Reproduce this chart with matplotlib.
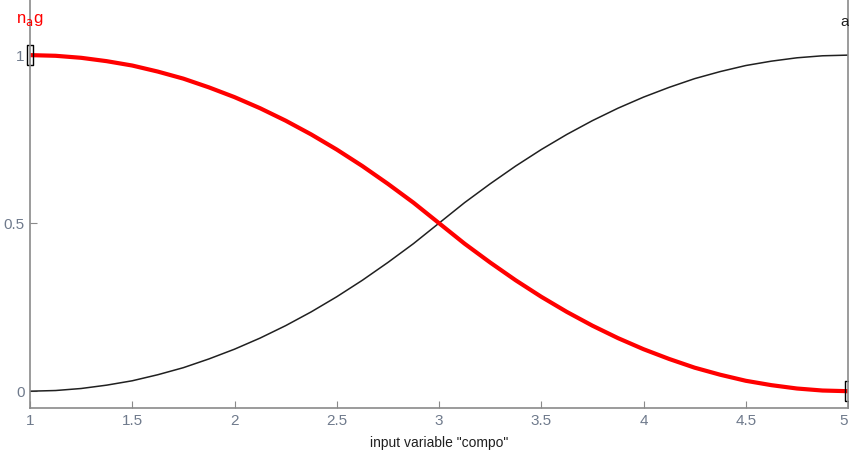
import matplotlib
matplotlib.use("Agg")
import matplotlib.pyplot as plt
from matplotlib.path import Path

plt.rcParams['font.family'] = ['Liberation Sans Narrow', 'Liberation Sans', 'DejaVu Sans']

# membership values
x = [1.0, 1.125, 1.25, 1.375, 1.5, 1.625, 1.75, 1.875, 2.0,
     2.125, 2.25, 2.375, 2.5, 2.625, 2.75, 2.875, 3.0,
     3.125, 3.25, 3.375, 3.5, 3.625, 3.75, 3.875, 4.0,
     4.125, 4.25, 4.375, 4.5, 4.625, 4.75, 4.875, 5.0]
mf_a = [0.0, 0.002, 0.008, 0.018, 0.031, 0.049, 0.070, 0.096, 0.125,
        0.158, 0.195, 0.236, 0.281, 0.330, 0.383, 0.439, 0.5,
        0.561, 0.617, 0.670, 0.719, 0.764, 0.805, 0.842, 0.875,
        0.904, 0.930, 0.951, 0.969, 0.982, 0.992, 0.998, 1.0]
mf_nag = [1.0, 0.998, 0.992, 0.982, 0.969, 0.951, 0.930, 0.904, 0.875,
          0.842, 0.805, 0.764, 0.719, 0.670, 0.617, 0.561, 0.5,
          0.439, 0.383, 0.330, 0.281, 0.236, 0.195, 0.158, 0.125,
          0.096, 0.070, 0.049, 0.031, 0.018, 0.008, 0.002, 0.0]
xticks = [1, 1.5, 2, 2.5, 3, 3.5, 4, 4.5, 5]
yticks = [0, 0.5, 1]
yticklabels = ['0', '0.5', '1']

tick_col = '#6f7a8c'
spine_col = '#8a8a8a'

fig = plt.figure(figsize=(8.49, 4.59), dpi=100)
ax = fig.add_axes([30/849, 51/459, 818/849, 408/459])

ax.plot(x, mf_a, color='#202020', lw=1.1)
ax.plot(x, mf_nag, color='#ff0000', lw=3.0, solid_capstyle='butt')

# selected-MF end markers (tall rectangles)
rect = Path([(-0.35, -1), (0.35, -1), (0.35, 1), (-0.35, 1), (-0.35, -1)])
ax.plot([x[0], x[-1]], [mf_nag[0], mf_nag[-1]], ls='none', marker=rect,
        ms=14, mfc='none', mec='black', mew=1.0, clip_on=False)

ax.text(1.0, 1.105, r'n$_{\rm a}$g', color='#ff0000', fontsize=12,
        ha='center', va='center')
ax.text(4.985, 1.10, 'a', color='#202020', fontsize=11, ha='center', va='center')

ax.set_xlim(1, 5)
ax.set_ylim(-0.05, 1.164)
ax.set_xticks(xticks)
ax.set_xticklabels([f'{t:g}' for t in xticks])
ax.set_yticks(yticks)
ax.set_yticklabels(yticklabels)
ax.tick_params(direction='in', length=5, color=spine_col, labelcolor=tick_col,
               labelsize=11, pad=4)
ax.get_xticklabels()[-1].set_horizontalalignment('right')
ax.spines['top'].set_visible(False)
for s in ['left', 'right', 'bottom']:
    ax.spines[s].set_color(spine_col)
    ax.spines[s].set_linewidth(1.2)

ax.set_xlabel('input variable "compo"', fontsize=10, color='#202020', labelpad=6)

plt.savefig('out.png', dpi=100)
